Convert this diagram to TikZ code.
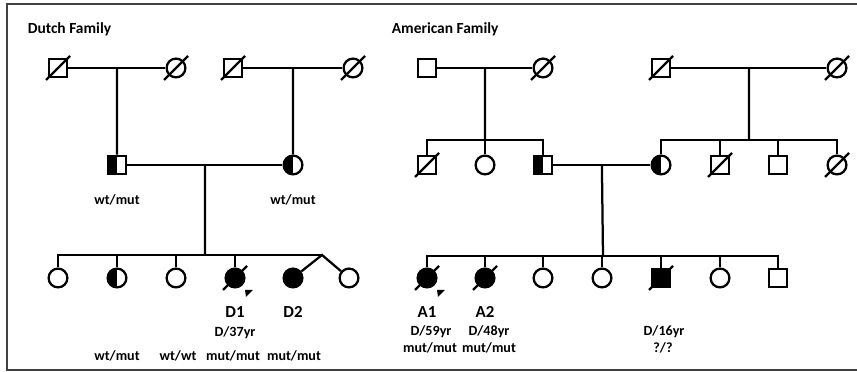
\documentclass[tikz,border=0pt]{standalone}
\usepackage{fontspec}
\setmainfont{Carlito}
\usepackage{tikz}
\usetikzlibrary{positioning,calc}

\begin{document}
\begin{tikzpicture}[
    x=0.025cm, y=-0.025cm,
    every node/.style={font=\bfseries\fontsize{10}{12}\selectfont},
    line width=1.6pt,
    male/.style={draw, rectangle, minimum size=4.6mm, inner sep=0pt, fill=white},
    female/.style={draw, circle, minimum size=4.7mm, inner sep=0pt, fill=white},
    aff/.style={fill=black},
    half/.style={path picture={\fill[black] (path picture bounding box.south west)
        rectangle (path picture bounding box.north);}},
    slash/.style={line width=1.6pt},
    famtitle/.style={font=\bfseries\fontsize{11}{13}\selectfont, anchor=west},
    idlab/.style={font=\bfseries\fontsize{12}{14}\selectfont}
  ]
  \useasboundingbox (0,0) rectangle (857,372);
  % Frame
  \draw[line width=1.2pt, black!75] (7,4) rectangle (862,370);

  % ---------------- Dutch family ----------------
  \node[famtitle] (dtitle) at (22,29) {Dutch Family};
  % Grandparents
  \node[male]   (dm1) at (58,68)  {};
  \node[female] (df1) at (176,68) {};
  \node[male]   (dm2) at (233,68) {};
  \node[female] (df2) at (353,68) {};
  \draw (dm1) -- (df1) coordinate[midway] (dc1);
  \draw (dm2) -- (df2) coordinate[midway] (dc2);
  % Parents
  \node[male, half]   (dfa) at (117,165) {};
  \node[female, half] (dmo) at (293,165) {};
  \draw (dc1) -- (dfa);
  \draw (dc2) -- (dmo);
  \draw (dfa) -- (dmo) coordinate[midway] (dc3);
  \node (dfag) at (117,200) {wt/mut};
  \node (dmog) at (293,200) {wt/mut};
  % Children
  \coordinate (dsib) at (205,255);
  \coordinate (dtw) at (322,255);
  \draw (dc3) -- (dsib);
  \node[female]       (dk1) at (58,278)  {};
  \node[female, half] (dk2) at (117,278) {};
  \node[female]       (dk3) at (176,278) {};
  \node[female, aff]  (dk4) at (235,278) {};
  \node[female, aff]  (dk5) at (293,278) {};
  \node[female]       (dk6) at (349,278) {};
  \foreach \k in {dk1,dk2,dk3,dk4}
    \draw (\k) |- (dsib);
  \draw (dsib) -- (dtw);
  \draw (dk5) -- (dtw) -- (dk6);
  \node[idlab] (dd1) at (235,312) {D1};
  \node[idlab] (dd2) at (293,312) {D2};
  \node (dk4a) at (235,333) {D/37yr};
  \node (dk2g) at (117,356) {wt/mut};
  \node (dk3g) at (178,356) {wt/wt};
  \node (dk4g) at (233,356) {mut/mut};
  \node (dk5g) at (294,356) {mut/mut};

  % ---------------- American family ----------------
  \node[famtitle] (atitle) at (386,29) {American Family};
  % Grandparents
  \node[male]   (am1) at (427,68) {};
  \node[female] (af1) at (543,68) {};
  \node[male]   (am2) at (661,68) {};
  \node[female] (af2) at (837,68) {};
  \draw (am1) -- (af1) coordinate[midway] (ac1);
  \draw (am2) -- (af2) coordinate[midway] (ac2);
  % Parents and their siblings
  \coordinate (asib1) at (485,140);
  \coordinate (asib2) at (749,140);
  \draw (ac1) -- (asib1);
  \draw (ac2) -- (asib2);
  \node[male]         (as1) at (427,165) {};
  \node[female]       (as2) at (485,165) {};
  \node[male, half]   (as3) at (543,165) {};
  \node[female, half] (an1) at (661,165) {};
  \node[male]         (an2) at (720,165) {};
  \node[male]         (an3) at (778,165) {};
  \node[female]       (an4) at (837,165) {};
  \foreach \k in {as1,as2,as3}
    \draw (\k) |- (asib1);
  \foreach \k in {an1,an2,an3,an4}
    \draw (\k) |- (asib2);
  \draw (as3) -- (an1) coordinate[midway] (ac3);
  % Children
  \coordinate (asib3) at (603,256);
  \draw (ac3) -- (asib3);
  \node[female, aff] (ak1) at (427,278) {};
  \node[female, aff] (ak2) at (485,278) {};
  \node[female]      (ak3) at (543,278) {};
  \node[female]      (ak4) at (602,278) {};
  \node[male, aff]   (ak5) at (661,278) {};
  \node[female]      (ak6) at (720,278) {};
  \node[male]        (ak7) at (778,278) {};
  \foreach \k in {ak1,ak2,ak3,ak4,ak5,ak6,ak7}
    \draw (\k) |- (asib3);
  \node[idlab] (aa1) at (427,312) {A1};
  \node[idlab] (aa2) at (485,312) {A2};
  \node (ak1a) at (431,332) {D/59yr};
  \node (ak2a) at (489,332) {D/48yr};
  \node (ak5a) at (664,332) {D/16yr};
  \node (ak1g) at (430,348) {mut/mut};
  \node (ak2g) at (489,348) {mut/mut};
  \node (ak5g) at (663,348) {?/?};

  % Deceased
  \foreach \p in {dm1,df1,dm2,df2,dk4,af1,am2,af2,as1,an2,an4,ak1,ak2,ak5}
    \draw[slash] ([shift={(-12,12)}]\p.center) -- ([shift={(12,-12)}]\p.center);
  % Probands
  \foreach \p in {dk4,ak1}
    \fill ([shift={(10,12)}]\p.center) -- ++(8,0) -- ++(-7,7) -- cycle;
\end{tikzpicture}
\end{document}
